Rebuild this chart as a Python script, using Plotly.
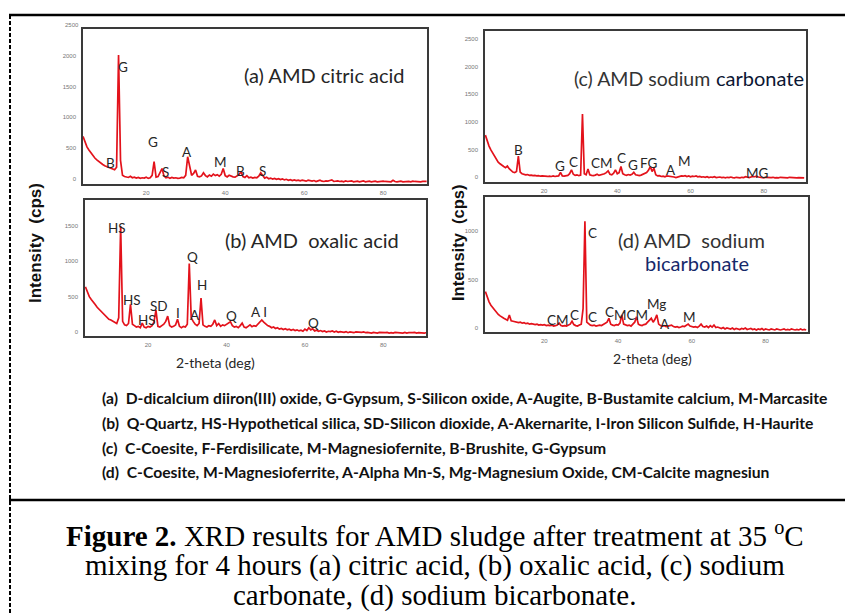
import numpy as np
import plotly.graph_objects as go

W, H = 845, 613

# ---------------- data ----------------
# 2-theta grid, 0.5 deg step from 4 to 91
two_theta = np.arange(4.0, 91.01, 0.5)

citric_acid = [
    690, 600, 520, 470, 420, 380, 340, 310, 280, 255, 235, 215, 200, 185, 170, 155,
    150, 190, 2010, 300, 60, 40, 30, 25, 45, 20, 30, 15, 25, 10, 20, 15,
    30, 10, 20, 60, 280, 30, 40, 110, 170, 50, 20, 30, 10, 25, 15, 20,
    10, 15, 25, 20, 60, 360, 220, 60, 90, 145, 45, 35, 50, 100, 55, 35,
    65, 45, 80, 55, 70, 45, 75, 170, 55, 35, 60, 45, 35, 30, 45, 70,
    120, 40, 25, 55, 20, 30, 15, 25, 20, 45, 100, 50, 15, 30, 5, 15,
    0, 10, -5, 5, -10, 0, -15, -5, -20, -10, -25, -15, -25, -20, -30, -20,
    -25, -35, -20, -30, -35, -25, -40, -30, -20, -35, -40, -30, -35, -25, -15, -40,
    -35, -30, -40, -35, -45, -30, -40, -35, -30, -45, -40, -35, -45, -40, -30, -45,
    -40, -35, -45, -40, -35, -45, -40, -45, -35, -40, -45, -40, -45, -20, -40, -45,
    -40, -35, -45, -40, -45, -40, -45, -35, -40, -45, -40, -45, -40, -45, -40,
]

oxalic_acid = [
    640, 560, 500, 460, 430, 390, 350, 320, 300, 270, 230, 210, 180, 170, 150, 130,
    120, 200, 1500, 150, 100, 90, 120, 390, 110, 90, 70, 80, 60, 125, 70, 60,
    80, 70, 90, 140, 310, 80, 70, 90, 110, 150, 225, 90, 70, 80, 100, 180,
    80, 60, 80, 70, 110, 970, 200, 150, 110, 90, 120, 480, 100, 80, 70, 90,
    80, 110, 170, 90, 120, 80, 100, 90, 110, 120, 145, 90, 70, 80, 60, 90,
    125, 70, 60, 80, 100, 75, 90, 80, 110, 130, 170, 140, 110, 90, 80, 60,
    70, 50, 60, 40, 50, 35, 45, 30, 40, 25, 35, 20, 30, 15, 25, 10,
    40, 20, 60, 30, 45, 15, 25, 10, 20, 5, 15, 0, 10, 5, 15, 0,
    10, -5, 5, 0, -5, 5, -10, 0, -5, -10, 0, -5, -10, -5, 0, -10,
    -5, -10, -15, -5, -10, -15, -5, -10, -15, -10, -5, -15, -10, -15, -5, -10,
    -15, -10, -15, -5, -15, -10, -15, -10, -5, -15, -10, -15, -10, -15, -10,
]

sodium_carbonate = [
    760, 640, 560, 490, 430, 370, 320, 270, 240, 210, 190, 170, 200, 150, 120, 90,
    80, 100, 380, 90, 60, 50, 40, 45, 30, 35, 25, 30, 20, 25, 15, 20,
    15, 20, 10, 15, 10, 20, 10, 15, 20, 85, 20, 15, 20, 30, 60, 130,
    50, 30, 40, 25, 35, 1140, 60, 40, 145, 40, 30, 25, 35, 50, 30, 40,
    45, 60, 80, 110, 50, 40, 70, 130, 60, 80, 190, 60, 40, 30, 45, 35,
    50, 85, 40, 30, 25, 35, 50, 60, 80, 120, 190, 100, 160, 40, 20, 25,
    10, 15, 5, 20, 15, 20, 5, 0, -10, 5, 10, 20, 15, 25, 10, 20,
    5, 15, 10, 20, 5, 10, 0, 5, -5, 5, -10, 0, -5, 5, -10, -5,
    0, -10, -5, -15, -5, -10, 0, -10, -15, -5, -10, -15, -5, -10, 5, -5,
    -10, 0, 10, 5, 15, 0, -5, -10, -15, -5, -10, -15, -10, -5, -15, -10,
    -15, -5, -10, -15, -10, -15, -5, -10, -15, -10, -15, -10, -15, -10, -15,
]

sodium_bicarbonate = [
    375, 320, 270, 235, 210, 180, 160, 140, 125, 110, 100, 90, 80, 135, 75, 70,
    65, 60, 55, 60, 50, 55, 45, 50, 40, 45, 40, 35, 40, 30, 35, 30,
    35, 25, 30, 25, 30, 20, 25, 30, 50, 25, 20, 25, 20, 30, 40, 70,
    35, 25, 20, 30, 40, 200, 1100, 60, 45, 30, 25, 30, 20, 25, 30, 25,
    35, 45, 60, 100, 40, 30, 25, 35, 30, 50, 135, 40, 30, 25, 30, 20,
    40, 60, 115, 40, 30, 25, 35, 40, 60, 80, 100, 60, 90, 135, 40, 25,
    20, 25, 15, 20, 25, 30, 15, 10, 15, 5, 10, 20, 15, 25, 40, 20,
    15, 10, 15, 5, 20, 40, 15, 10, 20, 5, 25, 10, 30, 5, 10, 0,
    -5, 5, -10, 0, -5, -10, 0, -15, -5, -10, -15, -5, -10, 0, -15, -10,
    -5, -15, -10, -20, -10, -15, -5, -20, -10, -15, -20, -10, -15, -20, -10, -15,
    -20, -15, -10, -20, -15, -20, -10, -15, -20, -15, -20, -10, -20, -15, -20,
]

x_ticks = [20, 40, 60, 80]
y_ticks_a = [0, 500, 1000, 1500, 2000]
y_ticks_b = [0, 500, 1000, 1500]
y_ticks_c = [0, 500, 1000, 1500, 2000, 2500]
y_ticks_d = [0, 500, 1000]

# ---------------- helpers ----------------
def px(x):
    return x / W

def py(y):
    return 1 - y / H

RED = "#e3121b"
TXT = "#262626"

fig = go.Figure()

panels = [
    ("", citric_acid, (83, 427), (29, 184), (4.0, 91.1), (-81, 2430), y_ticks_a),
    ("2", oxalic_acid, (85, 426), (200, 336), (3.9, 90.9), (-57, 1869), y_ticks_b),
    ("3", sodium_carbonate, (485, 806), (31, 182), (3.9, 91.5), (-90, 2643), y_ticks_c),
    ("4", sodium_bicarbonate, (485, 808), (197, 332), (3.9, 91.5), (-41, 1350), y_ticks_d),
]

for suf, vals, xd, yd, xr, yr, yt in panels:
    fig.add_trace(go.Scatter(
        x=two_theta, y=vals, mode="lines",
        line=dict(color=RED, width=1.7),
        xaxis="x" + suf, yaxis="y" + suf, showlegend=False, hoverinfo="skip",
    ))
    fig.layout["xaxis" + suf] = dict(
        domain=[px(xd[0]), px(xd[1])], range=list(xr), anchor="y" + suf,
        tickvals=x_ticks, showgrid=False, zeroline=False,
        showline=True, mirror=True, linecolor="#3a3a3a", linewidth=1.5,
        ticks="", tickfont=dict(size=6, color="#777", family="Liberation Sans"),
        ticklabelstandoff=2,
    )
    fig.layout["yaxis" + suf] = dict(
        domain=[py(yd[1]), py(yd[0])], range=list(yr), anchor="x" + suf,
        tickvals=yt, showgrid=False, zeroline=False,
        showline=True, mirror=True, linecolor="#3a3a3a", linewidth=1.5,
        ticks="", tickfont=dict(size=6, color="#777", family="Liberation Sans"),
        ticklabelstandoff=4,
    )

ann = []

def text(x, y, s, size=14, color=TXT, family="Lato", **kw):
    d = dict(x=px(x), y=py(y), xref="paper", yref="paper", text=s, showarrow=False,
             font=dict(size=size, color=color, family=family),
             xanchor=kw.pop("xanchor", "center"), yanchor=kw.pop("yanchor", "middle"))
    d.update(kw)
    ann.append(d)

# extra tick label above panel (a)
text(72, 25, "2500", size=6, color="#777", family="Liberation Sans")

# panel titles
text(324, 75, "(a) AMD citric acid", size=20)
text(312, 240, "(b) AMD  oxalic acid", size=20)
text(642, 78, "(c) AMD sodium", size=19.5, color="#333")
text(760, 78, "carbonate", size=20, color="#0b1633")
text(691, 240, "(d) AMD  sodium", size=20, color="#333")
text(697, 263, "bicarbonate", size=20, color="#16296a")

# peak labels
peak_a = [(123, 67, "G"), (110, 163, "B"), (153, 142, "G"), (165, 172, "S"),
          (187, 152, "A"), (220, 162, "M"), (240, 171, "B"), (262, 171, "S")]
peak_b = [(117, 228, "HS"), (132, 300, "HS"), (147, 320, "HS"), (159, 306, "SD"),
          (178, 313, "I"), (192, 257, "Q"), (195, 315, "A"), (202, 285, "H"),
          (232, 316, "Q"), (259, 312, "A I"), (313, 323, "Q")]
peak_c = [(518, 150, "B"), (560, 166, "G"), (573, 162, "C"), (602, 163, "CM"),
          (621, 158, "C"), (633, 165, "G"), (649, 163, "FG"), (671, 170, "A"),
          (684, 161, "M"), (757, 173, "MG")]
peak_d = [(592, 233, "C"), (558, 320, "CM"), (574, 315, "C"), (592, 317, "C"),
          (609, 312, "C"), (631, 315, "MCM"), (656, 304, "Mg"), (665, 324, "A"),
          (689, 317, "M")]
for lst in (peak_a, peak_b, peak_c, peak_d):
    for x, y, s in lst:
        text(x, y, s, size=13.5)

# axis titles
text(35, 243, "<b>Intensity  (cps)</b>", size=17, color="#111", family="Liberation Sans",
     textangle=-90)
text(458, 243, "<b>Intensity  (cps)</b>", size=16.5, color="#111", family="Liberation Sans",
     textangle=-90)
text(215, 362, "2-theta (deg)", size=14)
text(652, 358, "2-theta (deg)", size=14)

# mineral key
key_lines = [
    "(a)  D-dicalcium diiron(III) oxide, G-Gypsum, S-Silicon oxide, A-Augite, B-Bustamite calcium, M-Marcasite",
    "(b)  Q-Quartz, HS-Hypothetical silica, SD-Silicon dioxide, A-Akernarite, I-Iron Silicon Sulfide, H-Haurite",
    "(c)  C-Coesite, F-Ferdisilicate, M-Magnesiofernite, B-Brushite, G-Gypsum",
    "(d)  C-Coesite, M-Magnesioferrite, A-Alpha Mn-S, Mg-Magnesium Oxide, CM-Calcite magnesiun",
]
for s, y in zip(key_lines, [398, 423, 448, 472]):
    text(100, y, "<b>" + s + "</b>", size=15.7, color="#111", family="Lato", xanchor="left")

# caption
cap = [
    "<b>Figure 2.</b> XRD results for AMD sludge after treatment at 35 <sup>o</sup>C",
    "mixing for 4 hours (a) citric acid, (b) oxalic acid, (c) sodium",
    "carbonate, (d) sodium bicarbonate.",
]
for s, y in zip(cap, [534, 565, 595]):
    text(435, y, s, size=29, color="#000", family="Liberation Serif")

shapes = [
    dict(type="line", xref="paper", yref="paper", x0=px(9), x1=px(845), y0=py(15), y1=py(15),
         line=dict(color="#000", width=2.5)),
    dict(type="line", xref="paper", yref="paper", x0=px(9), x1=px(845), y0=py(500), y1=py(500),
         line=dict(color="#000", width=2.5)),
    dict(type="line", xref="paper", yref="paper", x0=px(10), x1=px(10), y0=py(15), y1=py(613),
         line=dict(color="#000", width=2, dash="4px,2px")),
]

fig.update_layout(
    width=W, height=H, margin=dict(l=0, r=0, t=0, b=0),
    paper_bgcolor="white", plot_bgcolor="white",
    annotations=ann, shapes=shapes, showlegend=False,
)

fig.write_html(
    "out.html",
    config={"displayModeBar": False},
    post_script="document.body.style.margin='0';document.body.style.padding='0';document.body.style.overflow='hidden';",
)
